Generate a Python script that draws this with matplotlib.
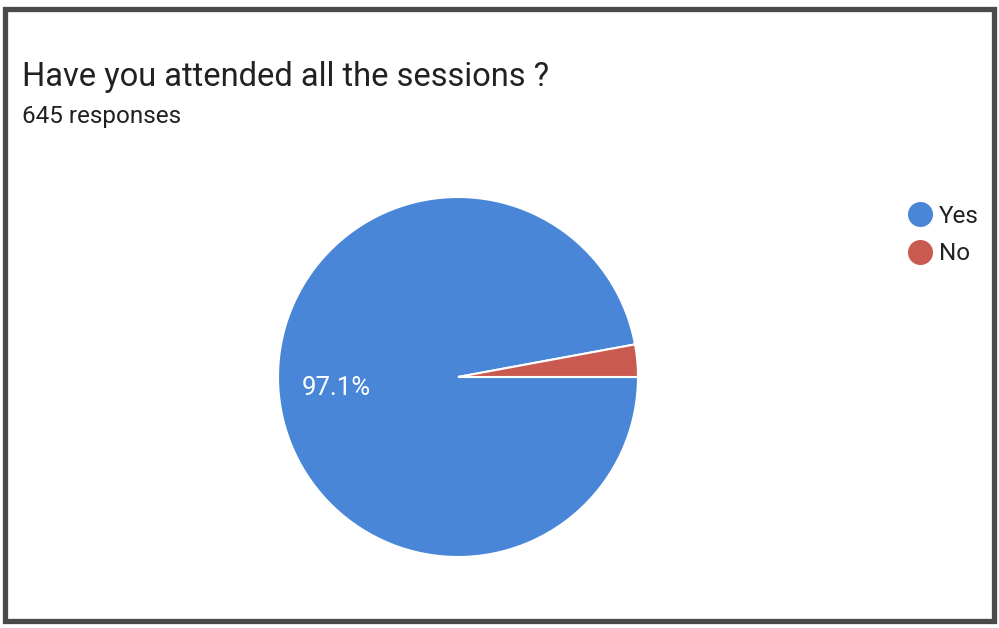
import matplotlib.pyplot as plt
from matplotlib.lines import Line2D
from matplotlib.patches import Rectangle

plt.rcParams['font.family'] = ['Roboto', 'DejaVu Sans']

# data
labels = ['Yes', 'No']
shares = [97.1, 2.9]
colors = ['#4a86d8', '#c95a50']

title = 'Have you attended all the sessions ?'
subtitle = '645 responses'

fig = plt.figure(figsize=(9.99, 6.28), dpi=100)
fig.patch.set_facecolor('white')

# scanned frame around the card
fig.patches.append(Rectangle((5 / 999, 7 / 628), 989 / 999, 612 / 628,
                             transform=fig.transFigure, fill=False,
                             edgecolor='#4a4a4a', linewidth=3.8))

fig.text(22 / 999, 1 - 77 / 628, title, fontsize=23.5, color='#202124',
         va='center', ha='left')
fig.text(22 / 999, 1 - 117 / 628, subtitle, fontsize=17.5, color='#202124',
         va='center', ha='left')

ax = fig.add_axes([278 / 999, 71 / 628, 360 / 999, 360 / 628])


def pct_label(p):
    return f'{p:.1f}%' if p > 5 else ''


wedges, texts, autotexts = ax.pie(
    shares, colors=colors, startangle=360 * shares[1] / 100, counterclock=True,
    autopct=pct_label, pctdistance=0.68,
    wedgeprops=dict(edgecolor='white', linewidth=1.5),
    textprops=dict(color='white', fontsize=18.5))
ax.set_xlim(-1, 1)
ax.set_ylim(-1, 1)

handles = [Line2D([], [], marker='o', linestyle='none', markersize=17,
                  markerfacecolor=c, markeredgecolor=c) for c in colors]
fig.legend(handles, labels, loc='upper left',
           bbox_to_anchor=(896 / 999, 1 - 195 / 628), frameon=False,
           fontsize=17.5, handletextpad=0.15, labelspacing=0.6,
           handlelength=1.2, borderaxespad=0, labelcolor='#202124')

fig.savefig('out.png', dpi=100)
